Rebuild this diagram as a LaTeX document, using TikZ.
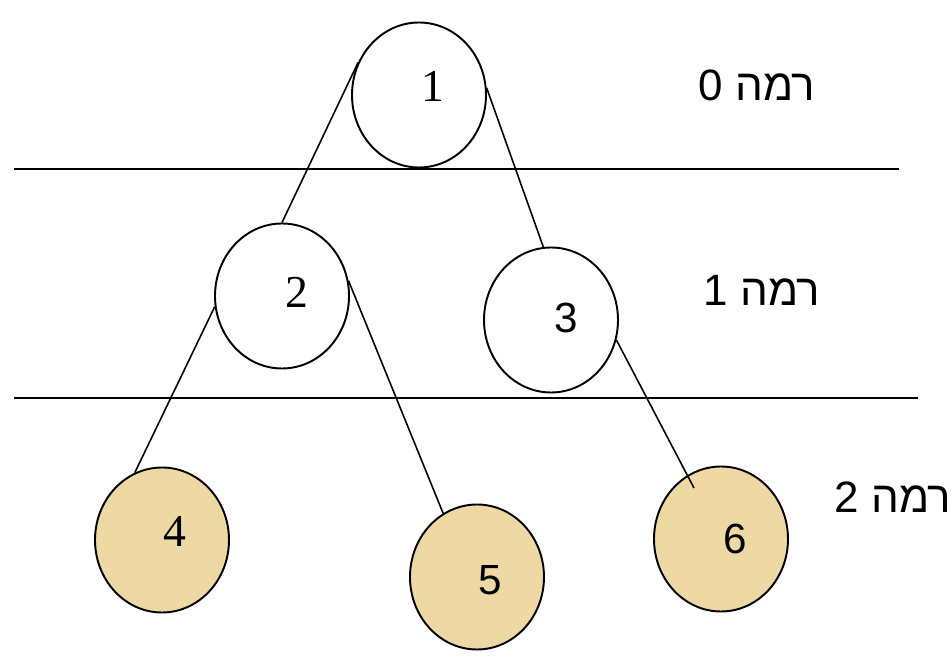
\documentclass[tikz,border=0pt]{standalone}
\usepackage{fontspec}
\setmainfont{Liberation Serif}
\newfontfamily\hebfont[Script=Hebrew]{Liberation Sans}
\newfontfamily\sansnum{Liberation Sans}
\TeXXeTstate=1
\usetikzlibrary{shapes.geometric}
\usetikzlibrary{calc}

\definecolor{papyrus}{RGB}{238,216,164}

\tikzset{
  vertex/.style={draw, ellipse, line width=1.1pt, minimum width=2.68cm, minimum height=2.9cm, inner sep=0pt},
  leaf/.style={vertex, fill=papyrus},
  num/.style={font=\fontsize{26}{30}\selectfont},
  sansnumber/.style={font=\sansnum\fontsize{24}{30}\selectfont},
  level/.style={font=\hebfont\fontsize{25}{30}\selectfont},
}

\begin{document}
\begin{tikzpicture}[scale=1]
\useasboundingbox (0,0) rectangle (19.04,13.16);

% level separators
\draw[line width=1.5pt] (0.28,9.78) -- (17.98,9.78);
\draw[line width=1.5pt] (0.28,5.20) -- (18.36,5.20);

% tree nodes
\node[vertex] (n1) at (8.38,11.26) {};
\node[vertex] (n2) at (5.64,7.24) {};
\node[vertex] (n3) at (11.02,6.76) {};
\node[leaf] (n4) at (3.24,2.36) {};
\node[leaf] (n5) at (9.54,1.62) {};
\node[leaf] (n6) at (14.42,2.38) {};

\node[num] (t1) at ($(n1)+(0.28,0.18)$) {1};
\node[num] (t2) at ($(n2)+(0.30,0.08)$) {2};
\node[sansnumber] (t3) at ($(n3)+(0.30,0.04)$) {3};
\node[num] (t4) at ($(n4)+(0.26,0.18)$) {4};
\node[sansnumber] (t5) at ($(n5)+(0.26,-0.06)$) {5};
\node[sansnumber] (t6) at ($(n6)+(0.28,0.00)$) {6};

% edges
\draw[line width=0.9pt] (n1.152) -- (n2.north);
\draw[line width=0.9pt] (n1.6) -- (n3.96);
\draw[line width=0.9pt] (n2.189) -- (n4.112);
\draw[line width=0.9pt] (n2.13) -- (n5.118);
\draw[line width=0.9pt] (n3.-17) -- ($(n6)+(-0.54,1.02)$);

% level names
\node[level] (l0) at (15.14,11.46) {\beginR רמה 0\endR};
\node[level] (l1) at (15.24,7.36) {\beginR רמה 1\endR};
\node[level] (l2) at (17.86,3.22) {\beginR רמה 2\endR};

\end{tikzpicture}
\end{document}
